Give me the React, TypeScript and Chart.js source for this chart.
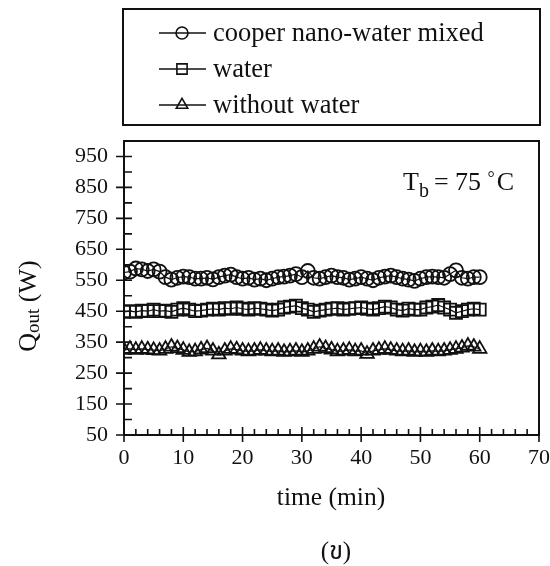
import React, { useEffect, useRef } from 'react';
import { Chart, registerables } from 'chart.js';

Chart.register(...registerables);

const TIME_MIN = [0, 1, 2, 3, 4, 5, 6, 7, 8, 9, 10, 11, 12, 13, 14, 15, 16, 17, 18, 19, 20, 21, 22, 23, 24, 25, 26, 27, 28, 29, 30, 31, 32, 33, 34, 35, 36, 37, 38, 39, 40, 41, 42, 43, 44, 45, 46, 47, 48, 49, 50, 51, 52, 53, 54, 55, 56, 57, 58, 59, 60];

const COPPER_NANO_WATER = [575, 578, 588, 585, 580, 585, 578, 560, 552, 558, 562, 560, 555, 555, 558, 553, 560, 565, 568, 560, 555, 558, 552, 555, 550, 555, 560, 562, 565, 570, 560, 580, 558, 555, 560, 565, 560, 558, 552, 555, 560, 555, 550, 558, 562, 565, 560, 555, 552, 548, 555, 560, 562, 560, 558, 570, 582, 558, 555, 560, 560];

const WATER = [448, 450, 448, 452, 450, 455, 450, 452, 448, 455, 460, 455, 450, 452, 455, 458, 455, 460, 458, 462, 458, 455, 460, 458, 455, 452, 455, 462, 465, 468, 460, 455, 448, 452, 455, 458, 460, 455, 458, 460, 462, 458, 455, 460, 465, 462, 455, 452, 458, 455, 455, 462, 465, 470, 462, 455, 445, 450, 455, 458, 455];

const WITHOUT_WATER = [325, 328, 325, 328, 326, 324, 322, 328, 335, 330, 325, 318, 320, 326, 330, 322, 310, 322, 328, 326, 322, 320, 322, 325, 322, 320, 322, 318, 320, 322, 318, 322, 328, 335, 330, 326, 320, 322, 325, 320, 322, 312, 322, 325, 328, 325, 322, 320, 322, 318, 320, 318, 322, 320, 322, 325, 328, 332, 338, 335, 328];

const SERIES_LABELS = ['cooper nano-water mixed', 'water', 'without water'];
const POINT_STYLES = ['circle', 'rect', 'triangle'];
const POINT_RADII = [7, 8.5, 7.8];

const X_TICKS = [0, 10, 20, 30, 40, 50, 60, 70];
const X_MINOR = [2, 4, 6, 8, 12, 14, 16, 18, 22, 24, 26, 28, 32, 34, 36, 38, 42, 44, 46, 48, 52, 54, 56, 58, 62, 64, 66, 68];
const Y_TICKS = [50, 150, 250, 350, 450, 550, 650, 750, 850, 950];
const Y_MINOR = [100, 200, 300, 400, 500, 600, 700, 800, 900];

const SERIF = '"Liberation Serif", "Times New Roman", serif';
const TICK_FONT = '"Liberation Serif", serif';

function drawMarker(ctx: CanvasRenderingContext2D, style: string, r: number, x: number, y: number) {
  ctx.beginPath();
  if (style === 'circle') {
    ctx.arc(x, y, r, 0, Math.PI * 2);
  } else if (style === 'rect') {
    const s = Math.SQRT1_2 * r;
    ctx.rect(x - s, y - s, 2 * s, 2 * s);
  } else {
    let rad = 0;
    ctx.moveTo(x + Math.sin(rad) * r, y - Math.cos(rad) * r);
    rad += (2 * Math.PI) / 3;
    ctx.lineTo(x + Math.sin(rad) * r, y - Math.cos(rad) * r);
    rad += (2 * Math.PI) / 3;
    ctx.lineTo(x + Math.sin(rad) * r, y - Math.cos(rad) * r);
    ctx.closePath();
  }
  ctx.stroke();
}

const decorPlugin = {
  id: 'decor',
  afterDraw(chart: any) {
    const ctx: CanvasRenderingContext2D = chart.ctx;
    const { left, right, top, bottom } = chart.chartArea;
    const xs = chart.scales.x;
    const ys = chart.scales.y;
    ctx.save();
    ctx.strokeStyle = '#111';
    ctx.fillStyle = '#111';

    // frame
    ctx.lineWidth = 2;
    ctx.strokeRect(left, top, right - left, bottom - top);

    // ticks
    ctx.lineWidth = 1.6;
    ctx.beginPath();
    X_TICKS.forEach((v) => {
      const px = xs.getPixelForValue(v);
      ctx.moveTo(px, bottom - 8);
      ctx.lineTo(px, bottom + 7);
    });
    X_MINOR.forEach((v) => {
      const px = xs.getPixelForValue(v);
      ctx.moveTo(px, bottom - 6);
      ctx.lineTo(px, bottom);
    });
    Y_TICKS.forEach((v) => {
      const py = ys.getPixelForValue(v);
      ctx.moveTo(left - 8, py);
      ctx.lineTo(left + 8, py);
    });
    Y_MINOR.forEach((v) => {
      const py = ys.getPixelForValue(v);
      ctx.moveTo(left, py);
      ctx.lineTo(left + 8, py);
    });
    ctx.stroke();

    // legend box
    ctx.lineWidth = 2;
    ctx.strokeRect(123, 9, 417, 116);
    const rows = [33, 69, 105];
    chart.data.datasets.forEach((ds: any, i: number) => {
      const y = rows[i];
      ctx.lineWidth = 1.4;
      ctx.beginPath();
      ctx.moveTo(159, y);
      ctx.lineTo(206, y);
      ctx.stroke();
      ctx.lineWidth = 1.6;
      drawMarker(ctx, POINT_STYLES[i], POINT_RADII[i] * 0.85, 182, y);
      ctx.font = '26.5px ' + SERIF;
      ctx.textAlign = 'left';
      ctx.textBaseline = 'middle';
      ctx.fillText(ds.label, 213, y + 1);
    });

    // annotation T_b = 75 °C
    ctx.textBaseline = 'alphabetic';
    ctx.textAlign = 'left';
    let ax = 403;
    const ab = 190;
    ctx.font = '26px ' + SERIF;
    ctx.fillText('T', ax, ab);
    ax += ctx.measureText('T').width;
    ctx.font = '20px ' + SERIF;
    ctx.fillText('b', ax, ab + 7);
    ax += ctx.measureText('b').width + 5;
    ctx.font = '26px ' + SERIF;
    ctx.fillText('= 75', ax, ab);
    ax += ctx.measureText('= 75 ').width;
    ctx.font = '18px ' + SERIF;
    ctx.fillText('°', ax, ab - 6);
    ax += ctx.measureText('°').width + 2;
    ctx.font = '26px ' + SERIF;
    ctx.fillText('C', ax, ab);

    // y title Q_out (W)
    ctx.save();
    ctx.translate(36, 306);
    ctx.rotate(-Math.PI / 2);
    ctx.font = '26px ' + SERIF;
    const wQ = ctx.measureText('Q').width;
    ctx.font = '19px ' + SERIF;
    const wOut = ctx.measureText('out').width;
    ctx.font = '26px ' + SERIF;
    const wW = ctx.measureText(' (W)').width;
    let tx = -(wQ + wOut + wW) / 2;
    ctx.fillText('Q', tx, 0);
    tx += wQ;
    ctx.font = '19px ' + SERIF;
    ctx.fillText('out', tx, 3);
    tx += wOut;
    ctx.font = '26px ' + SERIF;
    ctx.fillText(' (W)', tx, 0);
    ctx.restore();

    // x title and caption
    ctx.textAlign = 'center';
    ctx.font = '25.5px ' + SERIF;
    ctx.fillText('time (min)', 331, 505);
    ctx.font = '25px ' + SERIF + ', "Noto Sans Thai", "Noto Serif Thai", sans-serif';
    ctx.fillText('(ข)', 336, 559);

    ctx.restore();
  },
};

export default function App() {
  const ref = useRef<HTMLCanvasElement | null>(null);
  useEffect(() => {
    document.body.style.margin = '0';
    const canvas = ref.current;
    if (!canvas) return;
    const makeData = (vals: number[]) => TIME_MIN.map((t, i) => ({ x: t, y: vals[i] }));
    const seriesValues = [COPPER_NANO_WATER, WATER, WITHOUT_WATER];
    const chart = new Chart(canvas, {
      type: 'line',
      data: {
        datasets: seriesValues.map((vals, i) => ({
          label: SERIES_LABELS[i],
          data: makeData(vals),
          borderColor: '#111',
          borderWidth: 1.2,
          pointStyle: POINT_STYLES[i] as any,
          pointRadius: POINT_RADII[i],
          pointBorderWidth: 1.8,
          pointBorderColor: '#111',
          pointBackgroundColor: 'rgba(0,0,0,0)',
          fill: false,
          tension: 0,
        })),
      },
      options: {
        responsive: false,
        animation: false,
        events: [],
        layout: { padding: { top: 141, right: 11, left: 0, bottom: 0 } },
        plugins: {
          legend: { display: false },
          tooltip: { enabled: false },
          title: { display: false },
        },
        scales: {
          x: {
            type: 'linear',
            min: 0,
            max: 70,
            afterBuildTicks: (s: any) => {
              s.ticks = X_TICKS.map((v) => ({ value: v }));
            },
            afterFit: (s: any) => {
              s.height = 131;
              s.paddingLeft = 0;
              s.paddingRight = 0;
              s.paddingTop = 0;
              s.paddingBottom = 0;
            },
            grid: { display: false, drawTicks: false },
            border: { display: false },
            ticks: {
              color: '#111',
              font: { family: TICK_FONT, size: 22 },
              padding: 10,
              maxRotation: 0,
              autoSkip: false,
            },
          },
          y: {
            type: 'linear',
            min: 50,
            max: 1000,
            afterBuildTicks: (s: any) => {
              s.ticks = Y_TICKS.map((v) => ({ value: v }));
            },
            afterFit: (s: any) => {
              s.width = 124;
              s.paddingLeft = 0;
              s.paddingRight = 0;
              s.paddingTop = 0;
              s.paddingBottom = 0;
            },
            grid: { display: false, drawTicks: false },
            border: { display: false },
            ticks: {
              color: '#111',
              font: { family: TICK_FONT, size: 22 },
              padding: 16,
              autoSkip: false,
            },
          },
        },
      },
      plugins: [decorPlugin],
    });
    return () => chart.destroy();
  }, []);
  return <canvas ref={ref} width={550} height={566} style={{ display: 'block' }} />;
}
